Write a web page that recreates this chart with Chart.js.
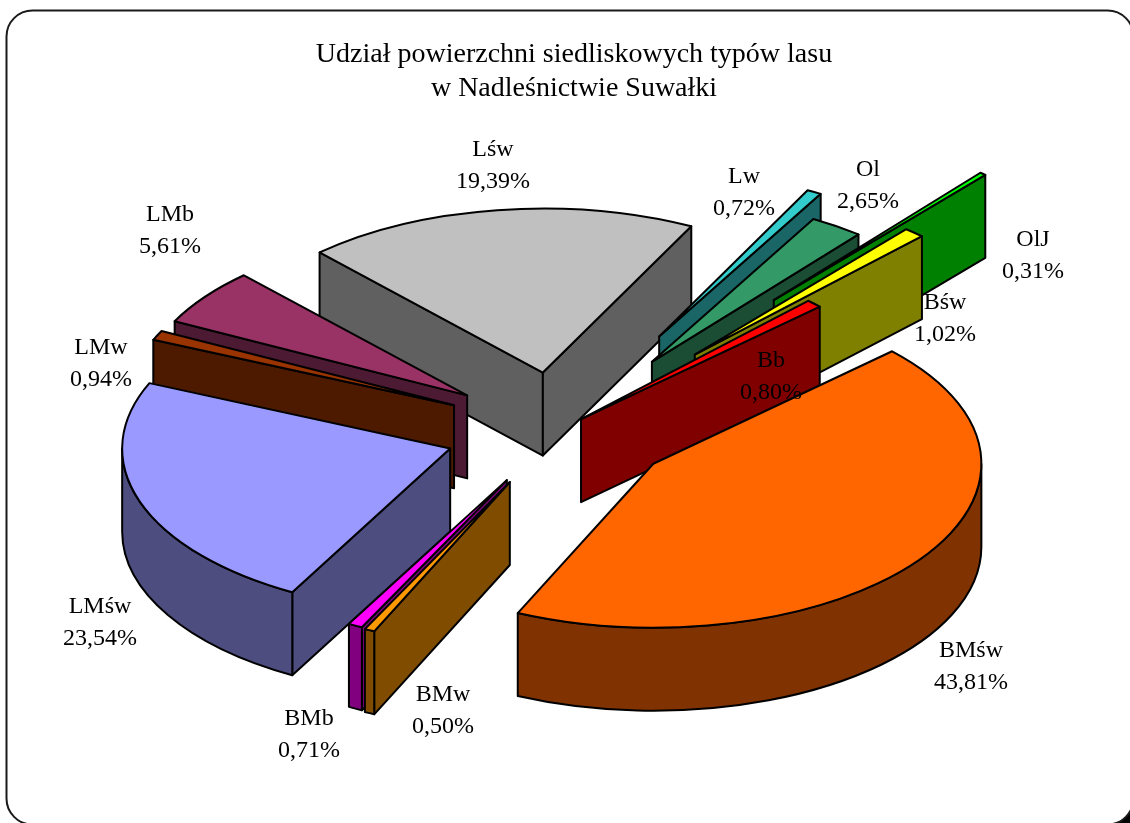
<!DOCTYPE html>
<html>
<head>
<meta charset="utf-8">
<title>Udział powierzchni siedliskowych typów lasu</title>
<script src="https://cdn.jsdelivr.net/npm/chart.js@4"></script>
<style>
  html, body { margin: 0; padding: 0; background: #fff; overflow: hidden; }
  canvas { display: block; }
</style>
</head>
<body>
<canvas id="pie" width="1130" height="823"></canvas>
<script>
// Chart data
const titleLines = ['Udział powierzchni siedliskowych typów lasu', 'w Nadleśnictwie Suwałki'];
const categories = ['Lśw', 'Lw', 'Ol', 'OlJ', 'Bśw', 'Bb', 'BMśw', 'BMw', 'BMb', 'LMśw', 'LMw', 'LMb'];
const shares = [19.39, 0.72, 2.65, 0.31, 1.02, 0.80, 43.81, 0.50, 0.71, 23.54, 0.94, 5.61];
const colors = ['#C0C0C0', '#33CCCC', '#339966', '#00FF00', '#FFFF00', '#FF0000',
  '#FF6600', '#FF9900', '#FF00FF', '#9999FF', '#993300', '#993366'];

// How far each slice is pulled out of the pie
const explode = [116, 212, 165, 337, 203, 31, 116, 115, 113, 115, 116, 115];
// Back to front, so nearer slices cover the ones behind them
const drawOrder = [0, 11, 10, 9, 1, 2, 3, 4, 5, 6, 8, 7];
// Centre of the first line of each label
const labelSpots = [[493, 150], [744, 177], [868, 170], [1033, 240], [945, 303], [771, 361],
  [971, 651], [443, 695], [309, 719], [100, 607], [101, 348], [170, 215]];

const PIE_X = 559;
const PIE_Y = 430;
const SQUASH = 0.5;
const DEPTH = 83;
const FONT = '"Liberation Serif", "Times New Roman", serif';

function halfColor(hex) {
  const n = parseInt(hex.slice(1), 16);
  const half = v => Math.round(v / 2);
  return `rgb(${half(n >> 16)}, ${half((n >> 8) & 255)}, ${half(n & 255)})`;
}

function paintFace(ctx, fill) {
  ctx.fillStyle = fill;
  ctx.fill();
  ctx.stroke();
}

// Extruded slice, using the angles and radius Chart.js worked out for the arc
function drawSlice(ctx, arc, index) {
  const { startAngle: start, endAngle: end, outerRadius: r } = arc.getProps(['startAngle', 'endAngle', 'outerRadius'], true);
  const mid = (start + end) / 2;
  const x = PIE_X + Math.cos(mid) * explode[index];
  const y = PIE_Y + Math.sin(mid) * explode[index] * SQUASH;
  const rimX = a => x + Math.cos(a) * r;
  const rimY = a => y + Math.sin(a) * r * SQUASH;
  const side = halfColor(colors[index]);

  ctx.lineWidth = 2;
  ctx.strokeStyle = '#000';
  ctx.lineJoin = 'round';

  // radial walls, only the ones facing the viewer
  [[start, Math.cos(start) < 0], [end, Math.cos(end) > 0]].forEach(([a, visible]) => {
    if (!visible) return;
    ctx.beginPath();
    ctx.moveTo(x, y);
    ctx.lineTo(rimX(a), rimY(a));
    ctx.lineTo(rimX(a), rimY(a) + DEPTH);
    ctx.lineTo(x, y + DEPTH);
    ctx.closePath();
    paintFace(ctx, side);
  });

  // outer rim where it faces the viewer
  for (let k = -1; k <= 1; k++) {
    const lo = Math.max(start, k * 2 * Math.PI);
    const hi = Math.min(end, k * 2 * Math.PI + Math.PI);
    if (lo >= hi) continue;
    ctx.beginPath();
    ctx.ellipse(x, y, r, r * SQUASH, 0, lo, hi);
    ctx.lineTo(rimX(hi), rimY(hi) + DEPTH);
    ctx.ellipse(x, y + DEPTH, r, r * SQUASH, 0, hi, lo, true);
    ctx.closePath();
    paintFace(ctx, side);
  }

  // top
  ctx.beginPath();
  ctx.moveTo(x, y);
  ctx.ellipse(x, y, r, r * SQUASH, 0, start, end);
  ctx.closePath();
  paintFace(ctx, colors[index]);
}

const framePlugin = {
  id: 'frame',
  beforeDraw(chart) {
    const ctx = chart.ctx;
    ctx.save();
    ctx.fillStyle = '#000';
    ctx.fillRect(30, 30, 1200, 900);
    ctx.beginPath();
    ctx.roundRect(6.5, 10.5, 1127, 814, 26);
    ctx.fillStyle = '#fff';
    ctx.fill();
    ctx.lineWidth = 2;
    ctx.strokeStyle = '#1a1a1a';
    ctx.stroke();
    ctx.restore();
  }
};

const pie3dPlugin = {
  id: 'pie3d',
  beforeDatasetDraw(chart) {
    const ctx = chart.ctx;
    const arcs = chart.getDatasetMeta(0).data;
    ctx.save();
    drawOrder.forEach(i => drawSlice(ctx, arcs[i], i));

    ctx.fillStyle = '#000';
    ctx.font = '24px ' + FONT;
    ctx.textAlign = 'center';
    ctx.textBaseline = 'middle';
    categories.forEach((name, i) => {
      const [lx, ly] = labelSpots[i];
      ctx.fillText(name, lx, ly);
      ctx.fillText(shares[i].toFixed(2).replace('.', ',') + '%', lx, ly + 32);
    });
    ctx.restore();
    return false; // the flat arcs are replaced by the solid ones above
  }
};

new Chart(document.getElementById('pie'), {
  type: 'pie',
  data: {
    labels: categories,
    datasets: [{
      data: shares,
      backgroundColor: colors,
      offset: explode
    }]
  },
  options: {
    responsive: false,
    animation: false,
    rotation: -42.9,
    radius: 328,
    layout: { padding: { left: 18, top: 38 } },
    plugins: {
      legend: { display: false },
      tooltip: { enabled: false },
      title: {
        display: true,
        text: titleLines,
        color: '#000',
        font: { family: FONT, size: 28, weight: 'normal', lineHeight: 1.21 },
        padding: 0
      }
    }
  },
  plugins: [framePlugin, pie3dPlugin]
});
</script>
</body>
</html>
